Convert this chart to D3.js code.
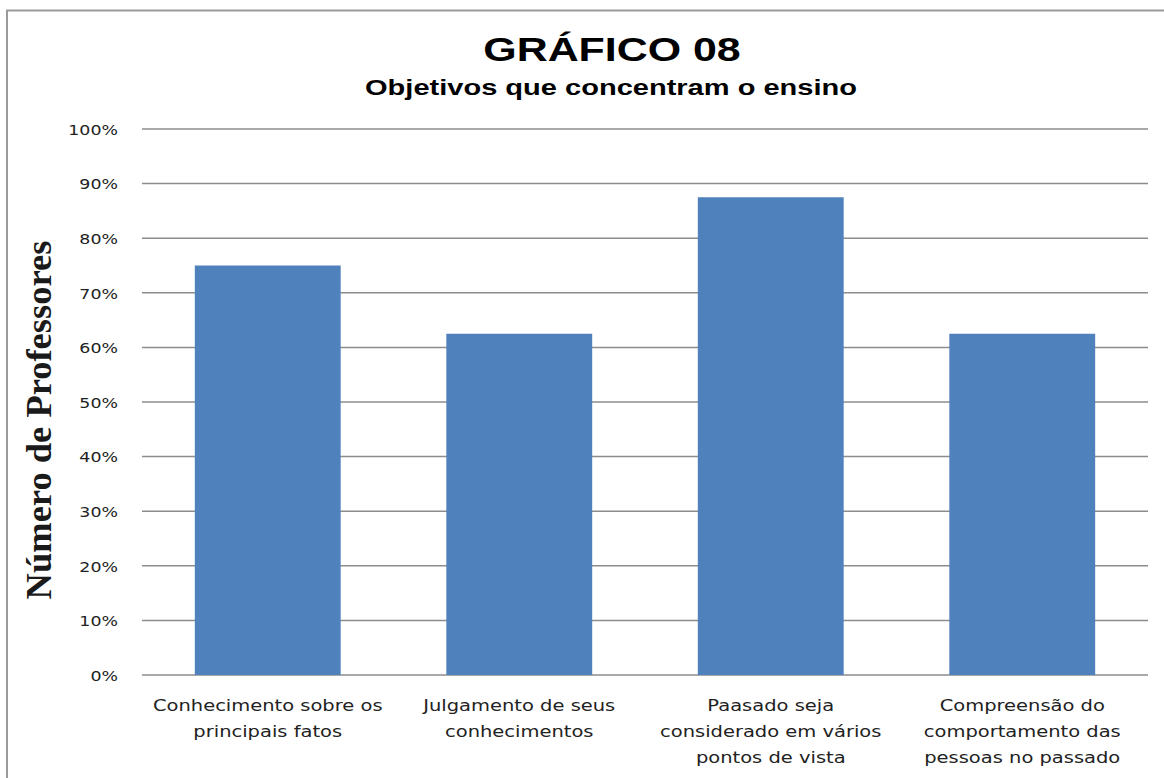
<!DOCTYPE html>
<html><head><meta charset="utf-8">
<script src="https://cdn.jsdelivr.net/npm/d3@7/dist/d3.min.js"></script>
<style>body{margin:0;background:#fff}svg{display:block}</style>
</head><body><svg id="c" width="1164" height="778"></svg>
<script>
const categories = [
  ["Conhecimento sobre os", "principais fatos"],
  ["Julgamento de seus", "conhecimentos"],
  ["Paasado seja", "considerado em vários", "pontos de vista"],
  ["Compreensão do", "comportamento das", "pessoas no passado"]
];
const values = [0.75, 0.625, 0.875, 0.625];
const yTicks = [0, 0.1, 0.2, 0.3, 0.4, 0.5, 0.6, 0.7, 0.8, 0.9, 1.0];

const svg = d3.select("#c");
const W = 1164, H = 778;
const m = {left: 142, right: 1148, top: 129, bottom: 675};
const SX = 1.3; // horizontal stretch seen in the reference text

// frame
svg.append("path").attr("d", `M7,${H} L7,10.5 L${W},10.5`).attr("fill","none").attr("stroke","#9a9a9a").attr("stroke-width",2);

const x = d3.scaleBand().domain(d3.range(categories.length)).range([m.left, m.right]).paddingInner(0.42).paddingOuter(0.21);
const y = d3.scaleLinear().domain([0,1]).range([m.bottom, m.top]);

// grid
svg.append("g").selectAll("line").data(yTicks).join("line")
  .attr("x1", m.left).attr("x2", m.right)
  .attr("y1", d=>y(d)).attr("y2", d=>y(d))
  .attr("stroke","#8c8c8c").attr("stroke-width",1.5);

// y axis labels
const yAxis = d3.axisLeft(y).tickValues(yTicks).tickFormat(d3.format(".0%")).tickSize(0).tickPadding(0);
const ga = svg.append("g").attr("transform", `translate(118,0)`).call(yAxis);
ga.select(".domain").remove();
ga.selectAll(".tick text").attr("x",0).attr("font-family","DejaVu Sans, Verdana, sans-serif").attr("font-size","14.5px").attr("fill","#222").attr("dy","0.36em")
  .attr("transform", `scale(1.2,1)`);

// bars
svg.append("g").selectAll("rect").data(values).join("rect")
  .attr("x", (d,i)=>x(i)).attr("width", x.bandwidth())
  .attr("y", d=>y(d)).attr("height", d=>y(0)-y(d))
  .attr("fill","#4f81bd");

// x labels
const xl = svg.append("g").selectAll("text").data(categories).join("text")
  .attr("transform", (d,i)=>`translate(${x(i)+x.bandwidth()/2},711) scale(${SX},1)`)
  .attr("text-anchor","middle").attr("font-family","DejaVu Sans, Verdana, sans-serif").attr("font-size","15px").attr("fill","#222");
xl.selectAll("tspan").data(d=>d).join("tspan")
  .attr("x", 0).attr("dy", (d,i)=> i===0 ? 0 : 26).text(d=>d);

// titles
svg.append("text").attr("transform", `translate(612,61) scale(${SX},1)`).attr("text-anchor","middle")
  .attr("font-family","Liberation Sans, Arial, sans-serif").attr("font-weight","bold").attr("font-size","33px").attr("fill","#000").text("GRÁFICO 08");
svg.append("text").attr("transform", `translate(611,95) scale(1.32,1)`).attr("text-anchor","middle")
  .attr("font-family","Liberation Sans, Arial, sans-serif").attr("font-weight","bold").attr("font-size","22px").attr("fill","#000").text("Objetivos que concentram o ensino");

// y title
svg.append("text").attr("transform","translate(51,420) rotate(-90)").attr("text-anchor","middle")
  .attr("font-family","Liberation Serif, Times New Roman, serif").attr("font-weight","bold").attr("font-size","36.5px").attr("fill","#1a1a1a").text("Número de Professores");
</script></body></html>
